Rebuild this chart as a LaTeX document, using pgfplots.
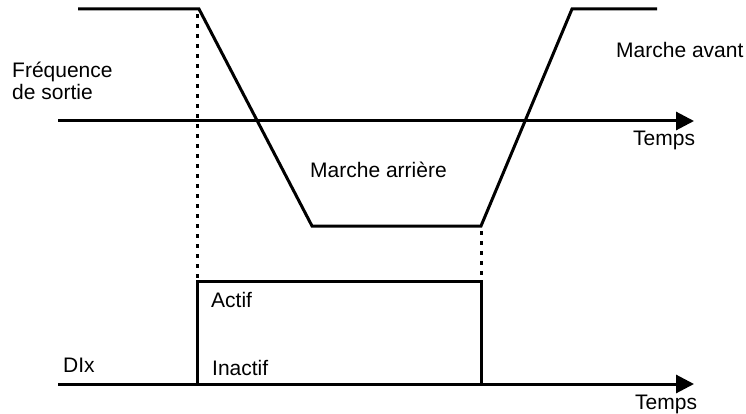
\documentclass[border=0pt]{standalone}
\usepackage{fontspec}
\setmainfont{Liberation Sans}
\usepackage{pgfplots}
\pgfplotsset{compat=1.18}
\usetikzlibrary{arrows.meta}

\begin{document}
\begin{tikzpicture}[lbl/.style={font=\fontsize{21}{25}\selectfont, inner sep=0pt, anchor=base west}]
\path[use as bounding box] (0,0) rectangle (746pt,414pt);
\begin{axis}[
    at={(0,0)}, anchor=south west,
    scale only axis, width=746pt, height=414pt,
    xmin=0, xmax=746, ymin=0, ymax=414, y dir=reverse,
    hide axis, clip=false,
]
% output frequency
\addplot[black, line width=3pt, line join=miter] coordinates {
    (78,9) (199,9) (312,226) (481,226) (572,9) (657,9)
};
% DIx pulse
\addplot[black, line width=3pt] coordinates {
    (197,384) (197,281) (481,281) (481,384)
};
% dotted guides
\addplot[black, line width=3pt, dash pattern=on 4pt off 6pt] coordinates {(197.5,14) (197.5,279)};
\addplot[black, line width=3pt, dash pattern=on 4pt off 6pt] coordinates {(481,231) (481,280)};
% time axes
\draw[line width=3pt, -{Triangle[length=18pt,width=18pt]}] (axis cs:58,121) -- (axis cs:694,121);
\draw[line width=3pt, -{Triangle[length=18pt,width=18pt]}] (axis cs:58,384) -- (axis cs:694,384);

\node[lbl] at (axis cs:12,78) {Fréquence};
\node[lbl] at (axis cs:12,100) {de sortie};
\node[lbl] at (axis cs:616,58) {Marche avant};
\node[lbl] at (axis cs:633,146) {Temps};
\node[lbl] at (axis cs:310,178) {Marche arrière};
\node[lbl] at (axis cs:211,307) {Actif};
\node[lbl] at (axis cs:212,375) {Inactif};
\node[lbl] at (axis cs:63,372) {DIx};
\node[lbl] at (axis cs:635,409) {Temps};
\end{axis}
\end{tikzpicture}
\end{document}
